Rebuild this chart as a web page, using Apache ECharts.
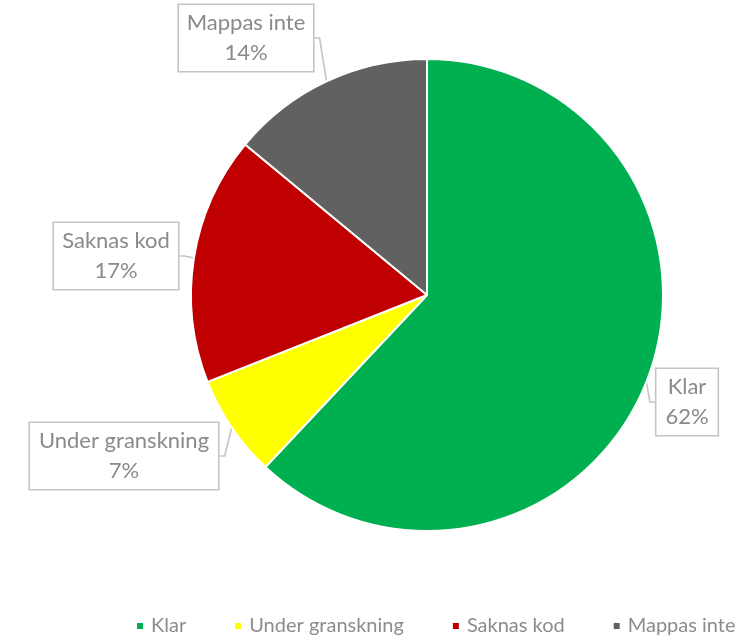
<!DOCTYPE html>
<html><head><meta charset="utf-8">
<script src="https://cdn.jsdelivr.net/npm/echarts@6/dist/echarts.min.js"></script>
<style>html,body{margin:0;padding:0;background:#fff}#c{width:751px;height:636px}</style>
</head><body><div id="c"></div>
<script>
const categories = ['Klar', 'Under granskning', 'Saknas kod', 'Mappas inte'];
const values = [62, 7, 17, 14];
const colors = ['#00B050', '#FFFF00', '#C00000', '#616161'];
const labelCenters = [[687, 402], [124, 456], [116, 256], [246, 38]];
const labelWidths = [47, 174, 110, 120];

const chart = echarts.init(document.getElementById('c'), null, {renderer: 'canvas'});
chart.setOption({
  animation: false,
  color: colors,
  legend: {
    top: 611, left: 130,
    icon: 'rect', itemWidth: 8, itemHeight: 8, itemGap: 47,
    textStyle: {color: '#8c8c8c', fontSize: 20, fontFamily: 'Lato', padding: [0, 0, 0, 2]},
    data: categories
  },
  series: [{
    type: 'pie',
    center: [427, 295], radius: [0, 236],
    startAngle: 90, clockwise: true,
    itemStyle: {borderColor: '#fff', borderWidth: 2},
    data: categories.map((c, i) => ({name: c, value: values[i],
      label: {width: labelWidths[i]}})),
    label: {
      show: true, position: 'outside',
      formatter: '{b}\n{d}%',
      color: '#8a8a8a', fontSize: 22, fontFamily: 'Lato', lineHeight: 30,
      align: 'center', overflow: 'none',
      backgroundColor: '#fff', borderColor: '#c4c4c4', borderWidth: 1.6,
      padding: [3, 7, 3, 7]
    },
    labelLine: {show: true, length: 5, length2: 5, lineStyle: {color: '#c4c4c4', width: 1.6}},
    labelLayout: function (p) {
      const c = labelCenters[p.dataIndex];
      return {x: c[0], y: c[1], align: 'center', verticalAlign: 'middle'};
    }
  }]
});
</script></body></html>
